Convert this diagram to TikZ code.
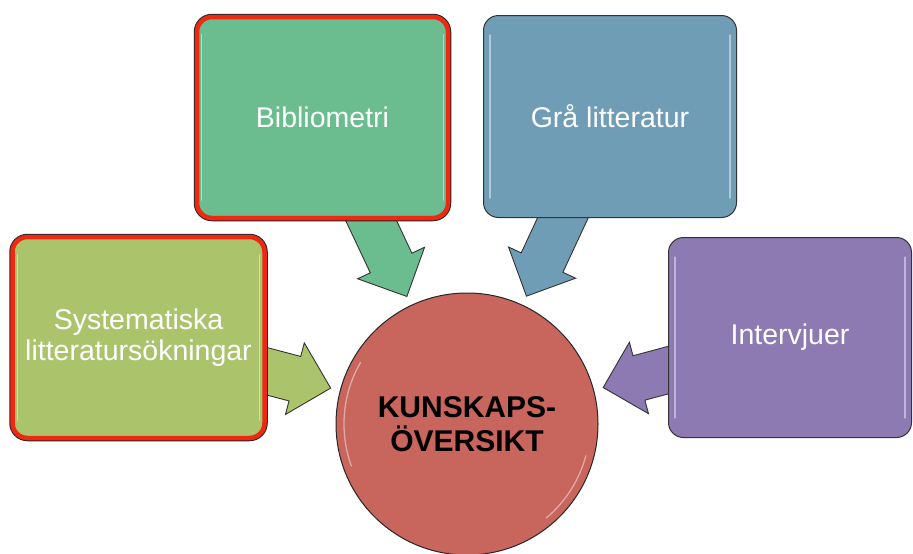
\documentclass[tikz,border=0pt]{standalone}
\usepackage{fontspec}
\setmainfont{Liberation Sans}
\usetikzlibrary{calc}
\pgfdeclarelayer{back}
\pgfsetlayers{back,main}

\definecolor{sysgreen}{RGB}{171,196,108}
\definecolor{bibgreen}{RGB}{107,188,142}
\definecolor{grablue}{RGB}{111,157,181}
\definecolor{intlilac}{RGB}{141,122,178}
\definecolor{kunred}{RGB}{200,101,93}
\definecolor{rim}{RGB}{240,40,18}

% fat arrow from a box towards the circle
\newcommand{\fatarrow}[2]{%
  \coordinate (s) at (#1.center);
  \coordinate (t) at ($(kunskap.center)!141pt!(#1.center)$);
  \coordinate (b) at ($(t)!37pt!(s)$);
  \draw[fat, fill=#2] ($(s)!23pt!90:(t)$) -- ($(b)!23pt!-90:(s)$)
    -- ($(b)!37pt!-90:(s)$) -- (t) -- ($(b)!37pt!90:(s)$)
    -- ($(b)!23pt!90:(s)$) -- ($(s)!23pt!-90:(t)$) -- cycle;
}

\begin{document}
\begin{tikzpicture}[x=1pt,y=-1pt,
    box/.style={rectangle, rounded corners=15pt, draw=black!80, line width=1pt,
      text=white, align=center, font=\fontsize{28.5}{31}\selectfont},
    redrim/.style={preaction={draw=black!85, line width=6.5pt}, draw=rim, line width=4.5pt},
    fat/.style={draw=black!80, line width=0.9pt, line join=miter},
    gloss/.style={white, opacity=0.45, line width=1.3pt, line cap=round}]
  \useasboundingbox (0,0) rectangle (913,554);
  \node[box, redrim, fill=sysgreen, minimum width=252pt, minimum height=201pt] (sys) at (138.5,337.5) {Systematiska\\litteratursökningar};
  \node[box, redrim, fill=bibgreen, minimum width=251pt, minimum height=201pt] (bib) at (322.5,117.5) {Bibliometri};
  \node[box, fill=grablue, minimum width=253pt, minimum height=202pt] (gra) at (610,116.5) {Grå litteratur};
  \node[box, fill=intlilac, minimum width=243pt, minimum height=200pt] (int) at (790,337.5) {Intervjuer};
  \node[circle, draw=black!85, line width=1pt, fill=kunred, minimum size=262pt, align=center,
    font=\fontsize{30}{34}\selectfont\bfseries] (kunskap) at (467,424) {KUNSKAPS-\\ÖVERSIKT};
  % highlights
  \foreach \b in {sys,bib,gra,int} {
    \draw[gloss] ($(\b.north west)+(7,20)$) -- ($(\b.south west)+(7,-20)$);
    \draw[gloss] ($(\b.north east)+(-7,20)$) -- ($(\b.south east)+(-7,-20)$);
  }
  \draw[gloss] (kunskap.center) ++(200:123pt) arc[start angle=200, end angle=150, radius=123pt];
  \draw[gloss] (kunskap.center) ++(-15:123pt) arc[start angle=-15, end angle=-50, radius=123pt];
  \begin{pgfonlayer}{back}
    \fatarrow{sys}{sysgreen}
    \fatarrow{bib}{bibgreen}
    \fatarrow{gra}{grablue}
    \fatarrow{int}{intlilac}
  \end{pgfonlayer}
\end{tikzpicture}
\end{document}
